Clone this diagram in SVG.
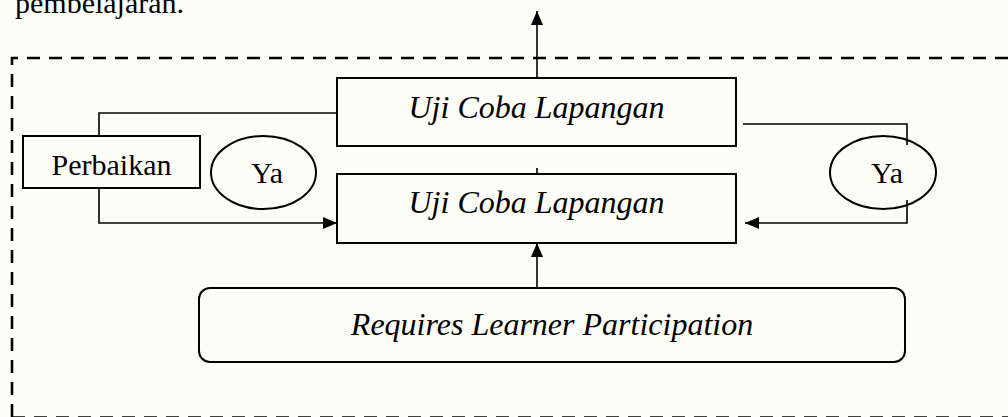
<svg xmlns="http://www.w3.org/2000/svg" width="1008" height="417" viewBox="0 0 1008 417">
<defs>
<marker id="ah" viewBox="0 0 14 12" refX="14" refY="6" markerWidth="14" markerHeight="12" markerUnits="userSpaceOnUse" orient="auto">
<path d="M0,0 L14,6 L0,12 Z" fill="#000"/>
</marker>
<style>
.bg{fill:#fdfdf8}
.box{fill:none;stroke:#000;stroke-width:2}
.ln{fill:none;stroke:#000;stroke-width:1.6}
.dash{fill:none;stroke:#000;stroke-width:2.6;stroke-dasharray:13 9}
.reg{font-family:"Liberation Serif","Times New Roman",serif;font-size:30px;fill:#000}
.it{font-family:"Liberation Serif","Times New Roman",serif;font-size:32px;font-style:italic;fill:#000}
</style>
</defs>
<rect class="bg" x="0" y="0" width="1008" height="417"/>
<text class="reg" x="15" y="13">pembelajaran.</text>
<g id="frame">
<path class="dash" d="M12,417 L12,58 L1008,58"/>
<path class="dash" d="M12,417.5 L1008,417.5" stroke="#ccc"/>
</g>
<g id="connectors">
<path class="ln" d="M537,78 L537,11" marker-end="url(#ah)"/>
<path class="ln" d="M537,168 L537,174"/>
<path class="ln" d="M99,136 L99,113 L337,113"/>
<path class="ln" d="M99,188 L99,223 L337,223" marker-end="url(#ah)"/>
<path class="ln" d="M743,124 L907,124 L907,145"/>
<path class="ln" d="M907,200 L907,223 L745,223" marker-end="url(#ah)"/>
<path class="ln" d="M537,288 L537,243" marker-end="url(#ah)"/>
</g>
<g id="uji-top">
<rect class="box" x="337" y="78" width="399" height="68" fill="#fdfdf8"/>
<text class="it" x="536.5" y="118" text-anchor="middle">Uji Coba Lapangan</text>
</g>
<g id="uji-bottom">
<rect class="box" x="337" y="174" width="399" height="69"/>
<text class="it" x="536.5" y="213" text-anchor="middle">Uji Coba Lapangan</text>
</g>
<g id="perbaikan">
<rect class="box" x="23" y="136" width="177" height="52" fill="#fdfdf8"/>
<text class="reg" x="111.5" y="175" text-anchor="middle">Perbaikan</text>
</g>
<g id="ya-left">
<ellipse class="box" cx="263.5" cy="172.5" rx="52.5" ry="36.5"/>
<text class="reg" x="267" y="183" text-anchor="middle">Ya</text>
</g>
<g id="ya-right">
<ellipse class="box" cx="883" cy="172.5" rx="53" ry="36.5" fill="#fdfdf8"/>
<text class="reg" x="887" y="183" text-anchor="middle">Ya</text>
</g>
<g id="requires">
<rect class="box" x="199" y="288" width="706" height="74" rx="11"/>
<text class="it" x="552" y="335" text-anchor="middle">Requires Learner Participation</text>
</g>
</svg>
